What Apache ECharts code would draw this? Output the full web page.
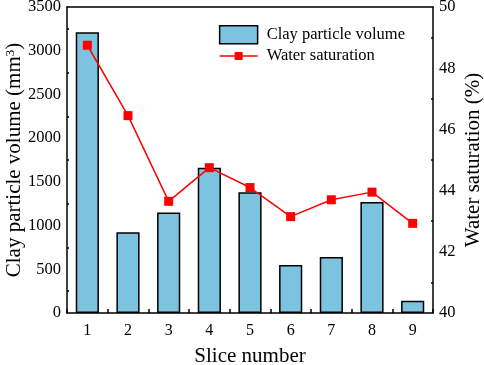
<!DOCTYPE html>
<html>
<head>
<meta charset="UTF-8">
<title>Clay particle volume and water saturation</title>
<script src="https://cdn.jsdelivr.net/npm/echarts@6/dist/echarts.min.js"></script>
<style>
  html, body { margin: 0; padding: 0; background: #fff; }
  #main { width: 484px; height: 365px; }
</style>
</head>
<body>
<div id="main"></div>
<script>
var slices = ['1', '2', '3', '4', '5', '6', '7', '8', '9'];
var clayVolume = [3210, 925, 1150, 1660, 1380, 550, 640, 1270, 140];
var waterSat = [48.75, 46.45, 43.65, 44.75, 44.1, 43.15, 43.7, 43.95, 42.93];

var font = 'Liberation Serif';
// legend icon: thin line with a small square in the middle
var lineIcon = 'path://M0,8.25L15,8.25L15,5L23,5L23,8.25L38,8.25L38,9.75L23,9.75L23,13L15,13L15,9.75L0,9.75Z';

var chart = echarts.init(document.getElementById('main'));
chart.setOption({
  animation: false,
  grid: {
    left: 67, right: 51, top: 7, bottom: 52,
    outerBoundsMode: 'none', containLabel: false
  },
  legend: {
    right: 74, top: 20, orient: 'vertical', itemGap: 3,
    itemWidth: 38, itemHeight: 18,
    textStyle: { fontFamily: font, fontSize: 16.5, color: '#000', padding: [0, 0, 0, 4] },
    data: [
      { name: 'Clay particle volume', icon: 'rect', itemStyle: { borderColor: '#000', borderWidth: 1.5 } },
      { name: 'Water saturation', icon: lineIcon, itemStyle: { color: '#ff0000', borderWidth: 0 } }
    ]
  },
  xAxis: [{
    type: 'category',
    data: slices,
    name: 'Slice number',
    nameLocation: 'middle',
    nameGap: 33,
    nameTextStyle: { fontFamily: font, fontSize: 21, color: '#000' },
    axisLine: { lineStyle: { color: '#000', width: 1.5 } },
    axisTick: { show: true, inside: true, length: 4, lineStyle: { color: '#000', width: 1.5 } },
    axisLabel: { fontFamily: font, fontSize: 16, color: '#000', margin: 10 }
  }, {
    // top frame line
    type: 'category',
    data: slices,
    position: 'top',
    axisLine: { show: true, onZero: false, lineStyle: { color: '#000', width: 1.5 } },
    axisTick: { show: false },
    axisLabel: { show: false }
  }],
  yAxis: [{
    type: 'value', min: 0, max: 3500, interval: 500,
    name: '{a|Clay particle volume (mm}{s|3}{a|)}',
    nameLocation: 'middle', nameGap: 42, nameMoveOverlap: false,
    nameTextStyle: {
      fontFamily: font, fontSize: 21, color: '#000',
      rich: {
        a: { fontFamily: font, fontSize: 21, color: '#000' },
        s: { fontFamily: font, fontSize: 13, color: '#000', verticalAlign: 'top', padding: [0, 0, 8, 0] }
      }
    },
    axisLine: { show: true, lineStyle: { color: '#000', width: 1.5 } },
    axisTick: { inside: true, length: 4, lineStyle: { color: '#000', width: 1.5 } },
    minorTick: { show: true, splitNumber: 2, length: 2, lineStyle: { color: '#000', width: 1.5 } },
    splitLine: { show: false },
    axisLabel: { fontFamily: font, fontSize: 16.5, color: '#000', margin: 6, formatter: function (v) { return String(v); } }
  }, {
    type: 'value', min: 40, max: 50, interval: 2,
    name: 'Water saturation (%)',
    nameLocation: 'middle', nameGap: 30, nameMoveOverlap: false,
    nameTextStyle: { fontFamily: font, fontSize: 21, color: '#000' },
    axisLine: { show: true, lineStyle: { color: '#000', width: 1.5 } },
    axisTick: { inside: true, length: 4, lineStyle: { color: '#000', width: 1.5 } },
    minorTick: { show: true, splitNumber: 2, length: 2, lineStyle: { color: '#000', width: 1.5 } },
    splitLine: { show: false },
    axisLabel: { fontFamily: font, fontSize: 16.5, color: '#000', margin: 6 }
  }],
  series: [{
    name: 'Clay particle volume',
    type: 'bar',
    data: clayVolume,
    barWidth: '57%',
    itemStyle: { color: '#7cc3df', borderColor: '#000', borderWidth: 1.5 }
  }, {
    name: 'Water saturation',
    type: 'line',
    yAxisIndex: 1,
    data: waterSat,
    symbol: 'rect',
    symbolSize: 9,
    lineStyle: { color: '#ff0000', width: 1.5 },
    itemStyle: { color: '#ff0000' }
  }]
});
</script>
</body>
</html>
